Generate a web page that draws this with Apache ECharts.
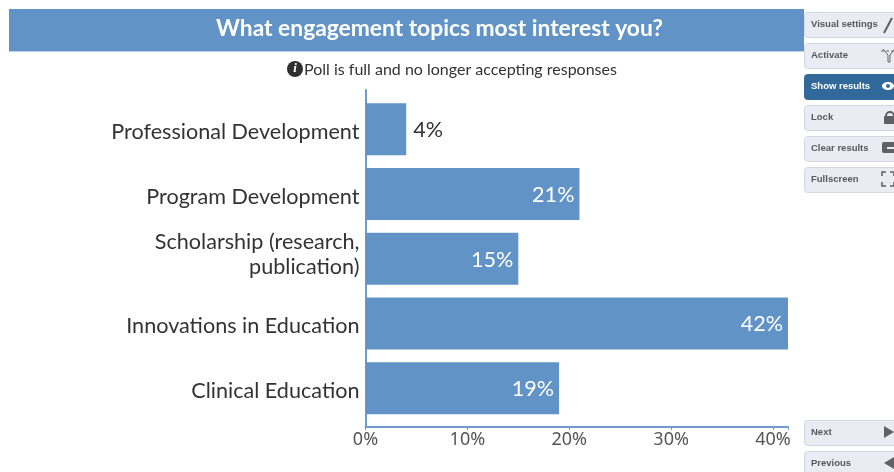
<!DOCTYPE html>
<html>
<head>
<meta charset="utf-8">
<style>html,body{margin:0;padding:0;background:#fff}#c{width:894px;height:472px}</style>
<script src="https://cdn.jsdelivr.net/npm/echarts@6/dist/echarts.min.js"></script>
</head>
<body>
<div id="c"></div>
<script>
const categories = ['Professional Development','Program Development','Scholarship (research,\npublication)','Innovations in Education','Clinical Education'];
const percents = [4, 21, 15, 42, 19];
const tickStep = 10;
const axisMax = 41.47;
const pollTitle = 'What engagement topics most interest you?';
const pollNotice = 'Poll is full and no longer accepting responses';
const topButtons = ['Visual settings','Activate','Show results','Lock','Clear results','Fullscreen'];
const bottomButtons = ['Next','Previous'];

const BLUE = '#6193c7', AXIS = '#6f9ccd', FONT = 'Lato, "Noto Sans", sans-serif', TICKFONT = '"Noto Sans", sans-serif';
const chart = echarts.init(document.getElementById('c'), null, {renderer:'canvas'});

function button(label, y, active) {
  return [
    {type:'rect', shape:{x:804.5,y:y+.5,width:110,height:25,r:3},
     style:{fill:active?'#32699b':'#e9edf3',stroke:active?'#32699b':'#d3d8e0',lineWidth:1}},
    {type:'text', x:811, y:y+12, style:{text:label,fill:active?'#fff':'#55595f',
     font:'bold 9.5px "Liberation Sans", sans-serif',verticalAlign:'middle'}}
  ];
}
const icoGrey = '#5e6266';
const icons = [
  {type:'polyline', shape:{points:[[884,33],[892,18]]}, style:{stroke:icoGrey,lineWidth:2,fill:null}},
  {type:'polyline', shape:{points:[[883,49],[888,55],[888,62],[890,62],[890,55],[895,49]]}, style:{stroke:icoGrey,lineWidth:1,fill:null}},
  {type:'polyline', shape:{points:[[881,51],[897,51]]}, style:{stroke:icoGrey,lineWidth:1,fill:null,lineDash:[3,2]}},
  {type:'ellipse', shape:{cx:888,cy:86,rx:6,ry:4}, style:{fill:'#fff'}},
  {type:'circle', shape:{cx:888,cy:86,r:2}, style:{fill:'#32699b'}},
  {type:'rect', shape:{x:884,y:116,width:12,height:8,r:1}, style:{fill:icoGrey}},
  {type:'arc', shape:{cx:890,cy:116,r:4,startAngle:Math.PI,endAngle:2*Math.PI}, style:{stroke:icoGrey,lineWidth:2,fill:null}},
  {type:'rect', shape:{x:882,y:142,width:14,height:11,r:2}, style:{fill:icoGrey}},
  {type:'rect', shape:{x:887,y:147,width:7,height:2}, style:{fill:'#e9edf3'}},
  {type:'polyline', shape:{points:[[882,176],[882,172],[886,172]]}, style:{stroke:icoGrey,lineWidth:1.5,fill:null}},
  {type:'polyline', shape:{points:[[882,182],[882,186],[886,186]]}, style:{stroke:icoGrey,lineWidth:1.5,fill:null}},
  {type:'polyline', shape:{points:[[890,172],[894,172],[894,176]]}, style:{stroke:icoGrey,lineWidth:1.5,fill:null}},
  {type:'polyline', shape:{points:[[890,186],[894,186],[894,182]]}, style:{stroke:icoGrey,lineWidth:1.5,fill:null}},
  {type:'polygon', shape:{points:[[884,426],[894,432],[884,438]]}, style:{fill:icoGrey}},
  {type:'polygon', shape:{points:[[894,457],[884,463],[894,469]]}, style:{fill:icoGrey}}
];

const graphic = [
  {type:'rect', z:-1, shape:{x:9,y:9,width:795,height:42}, style:{fill:BLUE}},
  {type:'rect', z:-1, shape:{x:9,y:51,width:795,height:1}, style:{fill:'#b9d0e8'}},
  {type:'circle', shape:{cx:295,cy:69,r:8}, style:{fill:'#2f2f2f'}},
  {type:'text', x:295, y:69, style:{text:'i',fill:'#fff',font:'italic bold 13px "Liberation Serif", serif',align:'center',verticalAlign:'middle'}}
];
[12,43,74,105,136,167].forEach((y,i)=>graphic.push(...button(topButtons[i],y,i===2)));
[420,451].forEach((y,i)=>graphic.push(...button(bottomButtons[i],y,false)));
graphic.push(...icons);

const catText = {color:'#333',fontFamily:FONT,fontSize:21.6,lineHeight:25,align:'right'};

chart.setOption({
  animation:false,
  title:[
    {text:pollTitle,left:434.5,top:12,textAlign:'center',
     textStyle:{color:'#fff',fontFamily:FONT,fontWeight:'bold',fontSize:22.8}},
    {text:pollNotice,left:299,top:57,
     textStyle:{color:'#333',fontFamily:FONT,fontWeight:'normal',fontSize:16}}
  ],
  grid:[
    {left:365.5,right:106,top:97,height:323.5},
    {left:365.5,right:106,top:90,height:337}
  ],
  xAxis:[
    {gridIndex:0,type:'value',min:0,max:axisMax,interval:tickStep,show:false},
    {gridIndex:1,type:'value',min:0,max:axisMax,interval:tickStep,
     axisLine:{show:true,lineStyle:{color:AXIS,width:2}},
     axisTick:{show:true,length:3,lineStyle:{color:AXIS,width:1}},
     splitLine:{show:false},showMaxLabel:false,
     axisLabel:{formatter:'{value}%',color:'#555',fontFamily:TICKFONT,fontSize:18,margin:4,
       customValues:[0,10,20,30,40]}}
  ],
  yAxis:[
    {gridIndex:0,type:'category',inverse:true,data:categories,
     axisLine:{show:false},axisTick:{show:false},
     axisLabel:{...catText,margin:6,
       // Two-line labels sit a little above the bar centre, single lines a little below.
       formatter:v=>{
         const lines=v.split('\n');
         return lines.length>1?`{m|${lines[0]}}\n{m|${lines[1]}}\n{z| }`:`{s|${v}}`;
       },
       rich:{
         s:{...catText,padding:[6,0,0,0]},
         m:{...catText},
         z:{fontSize:1,lineHeight:8,height:8}
       }}},
    {gridIndex:1,type:'category',data:[''],
     axisLine:{show:true,lineStyle:{color:AXIS,width:2}},axisTick:{show:false},axisLabel:{show:false}}
  ],
  series:[{
    type:'bar',xAxisIndex:0,yAxisIndex:0,barWidth:52,
    // A bar too short to hold its label carries it outside, in dark text.
    data:percents.map(v=>v<8?{value:v,label:{position:'right',color:'#333',distance:7}}:v),
    itemStyle:{color:BLUE},
    label:{show:true,position:'insideRight',distance:5,offset:[0,1],formatter:'{c}%',color:'#fff',fontFamily:FONT,fontSize:21.6}
  }],
  graphic:{elements:graphic}
});
</script>
</body>
</html>
